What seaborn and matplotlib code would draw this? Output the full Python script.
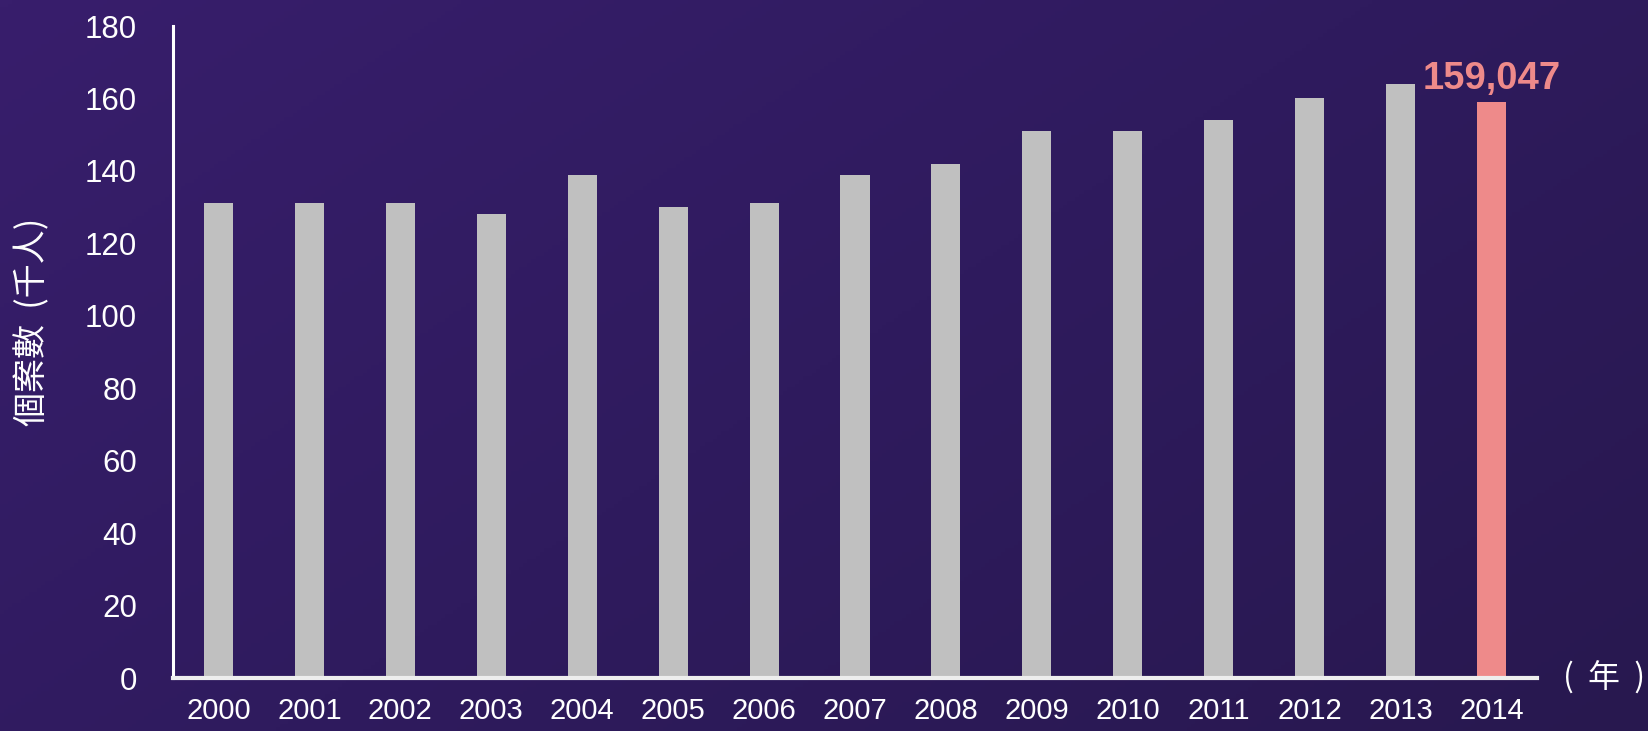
import numpy as np
import pandas as pd
import matplotlib
matplotlib.use("Agg")
import matplotlib.pyplot as plt
import seaborn as sns
from matplotlib.colors import LinearSegmentedColormap

years = ["2000", "2001", "2002", "2003", "2004", "2005", "2006", "2007",
         "2008", "2009", "2010", "2011", "2012", "2013", "2014"]
cases = [131, 131, 131, 128, 139, 130, 131, 139, 142, 151, 151, 154, 160, 164, 159.047]
bar_colors = ["#c0c0c0"] * 14 + ["#ee8a8a"]
highlight_label = "159,047"
y_ticks = [0, 20, 40, 60, 80, 100, 120, 140, 160, 180]
y_label = "個案數  (千人)"
x_label = "(  年  )"

sns.set_theme(style="white")
plt.rcParams["font.family"] = ["Liberation Sans", "Noto Sans CJK TC", "DejaVu Sans"]

W, H = 1648, 731
fig = plt.figure(figsize=(W / 100, H / 100), dpi=100)

# gradient background
bg = fig.add_axes([0, 0, 1, 1], zorder=-10)
gx, gy = np.meshgrid(np.linspace(0, 1, 400), np.linspace(0, 1, 200))
grad = (gx * 0.6 + gy * 0.4)
cmap = LinearSegmentedColormap.from_list("bg", ["#381e6c", "#2f1b5e", "#28184f"])
bg.imshow(grad, cmap=cmap, aspect="auto", extent=[0, 1, 0, 1], origin="upper")
bg.set_axis_off()

ax = fig.add_axes([173 / W, 1 - 678 / H, (1537 - 173) / W, (678 - 26) / H])
ax.set_facecolor("none")

df = pd.DataFrame({"year": years, "cases": cases})
sns.barplot(data=df, x="year", y="cases", hue="year", palette=bar_colors,
            legend=False, width=0.32, saturation=1, linewidth=0, edgecolor="none",
            ax=ax, zorder=2)

ax.set_xlim(-0.5, len(years) - 0.5)
ax.set_ylim(0, 180)
ax.set_yticks(y_ticks)
ax.set_yticklabels([str(t) for t in y_ticks])

for s in ["top", "right"]:
    ax.spines[s].set_visible(False)
ax.spines["left"].set_color("white")
ax.spines["left"].set_linewidth(2.2)
ax.spines["bottom"].set_color("#eeeeee")
ax.spines["bottom"].set_linewidth(3)
ax.spines["left"].set_zorder(3)
ax.spines["bottom"].set_zorder(3)

ax.tick_params(axis="y", length=0, pad=26, labelsize=22.5, labelcolor="white")
ax.tick_params(axis="x", length=0, pad=14, labelsize=21, labelcolor="white")

ax.set_xlabel("")
ax.set_ylabel(y_label, color="white", fontsize=24.5,
              fontfamily=["Noto Sans CJK TC", "DejaVu Sans"], fontweight="light")
ax.yaxis.set_label_coords(-0.09, 0.546)

ax.text(1.019, 0, x_label, transform=ax.transAxes, ha="left", va="center",
        color="white", fontsize=23, fontfamily=["Noto Sans CJK TC", "DejaVu Sans"],
        fontweight="light")

ax.annotate(highlight_label, xy=(len(years) - 1, cases[-1]), xytext=(0, 9.5),
            textcoords="offset points", ha="center", va="baseline",
            color="#ee8a8a", fontsize=27.5, fontweight="bold")

fig.savefig("out.png", dpi=100)
